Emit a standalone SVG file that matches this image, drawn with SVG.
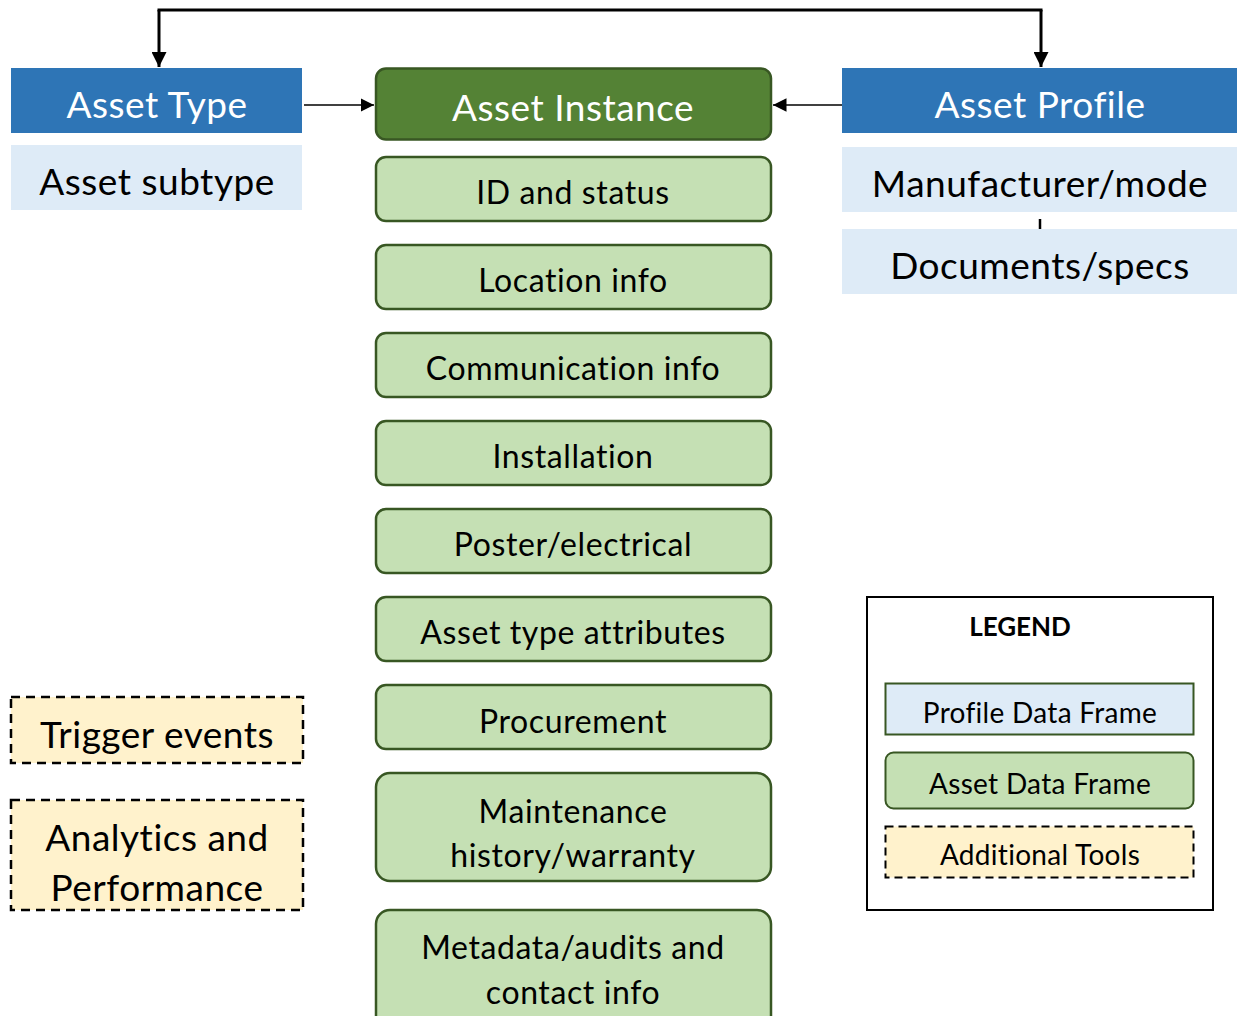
<svg xmlns="http://www.w3.org/2000/svg" width="1238" height="1016" viewBox="0 0 1238 1016">
<style>
text{font-family:Lato,"Open Sans","Liberation Sans",sans-serif;text-anchor:middle;dominant-baseline:central}
.hdr{fill:#2E75B6}
.sub{fill:#DEEBF7}
.grn{fill:#C5E0B4;stroke:#385723;stroke-width:2.5}
.tool{fill:#FFF2CC;stroke:#000;stroke-width:2.5;stroke-dasharray:9 6}
.w{fill:#fff;font-size:37px;letter-spacing:0.5px}
.b{fill:#000;font-size:37px;letter-spacing:0.5px}
.g{fill:#000;font-size:32px;letter-spacing:0.6px}
.l{fill:#000;font-size:28px;letter-spacing:0.3px}
</style>
<defs>
<marker id="ah" viewBox="0 0 10 10" refX="10" refY="5" markerWidth="5" markerHeight="5" orient="auto" markerUnits="strokeWidth"><path d="M0,0L10,5L0,10z" fill="#000"/></marker>
<marker id="ah2" viewBox="0 0 10 10" refX="10" refY="5" markerWidth="9" markerHeight="9" orient="auto" markerUnits="strokeWidth"><path d="M0,0L10,5L0,10z" fill="#000"/></marker>
</defs>
<rect width="1238" height="1016" fill="#fff"/>
<g id="connectors" fill="none" stroke="#000">
<path d="M159,10V67" stroke-width="3" marker-end="url(#ah)"/>
<path d="M157.5,10H1042.5" stroke-width="3"/>
<path d="M1041,10V67" stroke-width="3" marker-end="url(#ah)"/>
<path d="M304,105H374" stroke-width="1.5" marker-end="url(#ah2)"/>
<path d="M842,105H773" stroke-width="1.5" marker-end="url(#ah2)"/>
<path d="M1040,219V229" stroke-width="2.5"/>
</g>
<g id="asset-type"><rect class="hdr" x="11" y="68" width="291" height="65"/><text class="w" x="157" y="103">Asset Type</text></g>
<g id="asset-subtype"><rect class="sub" x="11" y="145" width="291" height="65"/><text class="b" x="157" y="180">Asset subtype</text></g>
<g id="asset-profile"><rect class="hdr" x="842" y="68" width="395" height="65"/><text class="w" x="1040" y="103">Asset Profile</text></g>
<g id="manufacturer"><rect class="sub" x="842" y="147" width="395" height="65"/><text class="b" x="1040" y="182">Manufacturer/mode</text></g>
<g id="documents"><rect class="sub" x="842" y="229" width="395" height="65"/><text class="b" x="1040" y="264">Documents/specs</text></g>
<g id="asset-instance"><rect x="376" y="68.5" width="395" height="71" rx="10" fill="#548235" stroke="#385723" stroke-width="2.5"/><text class="w" x="573" y="106">Asset Instance</text></g>
<g id="id-status"><rect class="grn" x="376" y="157" width="395" height="64" rx="10"/><text class="g" x="573" y="191">ID and status</text></g>
<g id="location"><rect class="grn" x="376" y="245" width="395" height="64" rx="10"/><text class="g" x="573" y="279">Location info</text></g>
<g id="communication"><rect class="grn" x="376" y="333" width="395" height="64" rx="10"/><text class="g" x="573" y="367">Communication info</text></g>
<g id="installation"><rect class="grn" x="376" y="421" width="395" height="64" rx="10"/><text class="g" x="573" y="455">Installation</text></g>
<g id="poster"><rect class="grn" x="376" y="509" width="395" height="64" rx="10"/><text class="g" x="573" y="543">Poster/electrical</text></g>
<g id="attributes"><rect class="grn" x="376" y="597" width="395" height="64" rx="10"/><text class="g" x="573" y="631">Asset type attributes</text></g>
<g id="procurement"><rect class="grn" x="376" y="685" width="395" height="64" rx="10"/><text class="g" x="573" y="720">Procurement</text></g>
<g id="maintenance"><rect class="grn" x="376" y="773" width="395" height="108" rx="14"/><text class="g" x="573" y="810">Maintenance</text><text class="g" x="573" y="854">history/warranty</text></g>
<g id="metadata"><rect class="grn" x="376" y="910" width="395" height="120" rx="14"/><text class="g" x="573" y="946">Metadata/audits and</text><text class="g" x="573" y="991">contact info</text></g>
<g id="trigger"><rect class="tool" x="11" y="697" width="292" height="66"/><text class="b" x="157" y="733">Trigger events</text></g>
<g id="analytics"><rect class="tool" x="11" y="800" width="292" height="110"/><text class="b" x="157" y="836">Analytics and</text><text class="b" x="157" y="886">Performance</text></g>
<g id="legend">
<rect x="867" y="597" width="346" height="313" fill="#fff" stroke="#000" stroke-width="2"/>
<text x="1020" y="626" style="font-size:26px;font-weight:bold">LEGEND</text>
<rect x="885.5" y="683.5" width="308" height="51" fill="#DEEBF7" stroke="#385723" stroke-width="2"/>
<text class="l" x="1040" y="712">Profile Data Frame</text>
<rect x="885.5" y="752.5" width="308" height="56" rx="8" fill="#C5E0B4" stroke="#385723" stroke-width="2"/>
<text class="l" x="1040" y="783">Asset Data Frame</text>
<rect x="885.5" y="826.5" width="308" height="51" fill="#FFF2CC" stroke="#000" stroke-width="2" stroke-dasharray="8 5"/>
<text class="l" x="1040" y="854">Additional Tools</text>
</g>
</svg>
